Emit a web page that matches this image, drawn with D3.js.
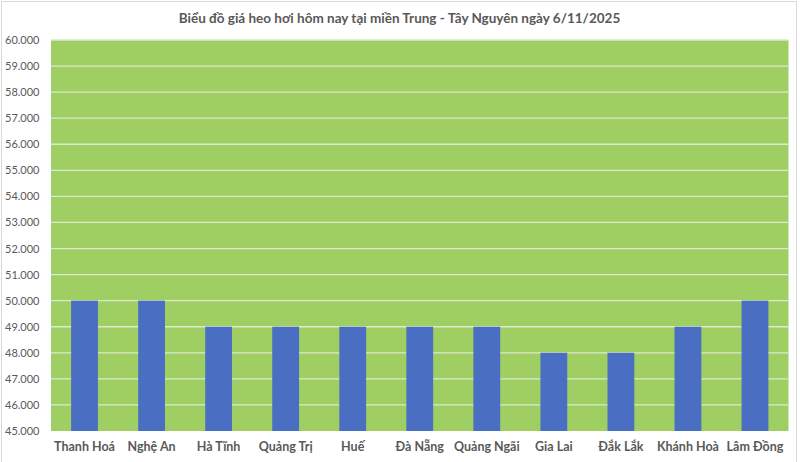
<!DOCTYPE html>
<html><head><meta charset="utf-8">
<script src="https://cdn.jsdelivr.net/npm/d3@7"></script>
<style>body{margin:0;background:#fff}svg{display:block}</style>
</head><body>
<svg id="c" width="800" height="462"></svg>
<script>
const title = "Biểu đồ giá heo hơi hôm nay tại miền Trung - Tây Nguyên ngày 6/11/2025";
const categories = ["Thanh Hoá","Nghệ An","Hà Tĩnh","Quảng Trị","Huế","Đà Nẵng","Quảng Ngãi","Gia Lai","Đắk Lắk","Khánh Hoà","Lâm Đồng"];
const prices = [50000,50000,49000,49000,49000,49000,49000,48000,48000,49000,50000];
const yTicks = [45000,46000,47000,48000,49000,50000,51000,52000,53000,54000,55000,56000,57000,58000,59000,60000];

const svg = d3.select("#c");
const font = "Lato, 'Open Sans', sans-serif";
const m = {l:51, r:788.5, t:40, b:431};

svg.append("rect").attr("x",1.5).attr("y",1.5).attr("width",795).attr("height",470)
  .attr("fill","#fff").attr("stroke","#d9d9d9");

const x = d3.scaleBand().domain(categories).range([m.l, m.r]).paddingInner(0.6).paddingOuter(0.3);
const y = d3.scaleLinear().domain([45000,60000]).range([m.b, m.t]);

svg.append("rect").attr("x",m.l).attr("y",m.t).attr("width",m.r-m.l).attr("height",m.b-m.t)
  .attr("fill","#9fce63");

svg.append("g").selectAll("line").data(yTicks.slice(1)).join("line")
  .attr("x1",m.l).attr("x2",m.r).attr("y1",d=>y(d)).attr("y2",d=>y(d))
  .attr("stroke","#dbe9cc").attr("stroke-width",1.3);

svg.append("g").selectAll("rect").data(prices).join("rect")
  .attr("x",(d,i)=>x(categories[i])).attr("width",x.bandwidth())
  .attr("y",d=>y(d)).attr("height",d=>y(45000)-y(d))
  .attr("fill","#4a6fc2");

const fmt = d => d3.format(",.0f")(d).replace(/,/g,".");
const yAxis = d3.axisLeft(y).tickValues(yTicks).tickFormat(fmt).tickSize(0).tickPadding(0);
const ga = svg.append("g").attr("transform",`translate(39.5,0)`).call(yAxis);
ga.select(".domain").remove();
ga.selectAll("text").attr("font-family",font).attr("font-size",11).attr("fill","#595959");

const xAxis = d3.axisBottom(x).tickSize(0).tickPadding(0);
const gx = svg.append("g").attr("transform",`translate(0,${m.b+16})`).call(xAxis);
gx.select(".domain").remove();
gx.selectAll("text").attr("font-family",font).attr("font-size",12.5).attr("font-weight","bold").attr("fill","#595959").attr("dy","0.35em");

svg.append("text").attr("x",399.5).attr("y",18).attr("text-anchor","middle").attr("dominant-baseline","central")
  .attr("font-family",font).attr("font-size",13.5).attr("font-weight","bold").attr("fill","#595959").text(title);
</script>
</body></html>
